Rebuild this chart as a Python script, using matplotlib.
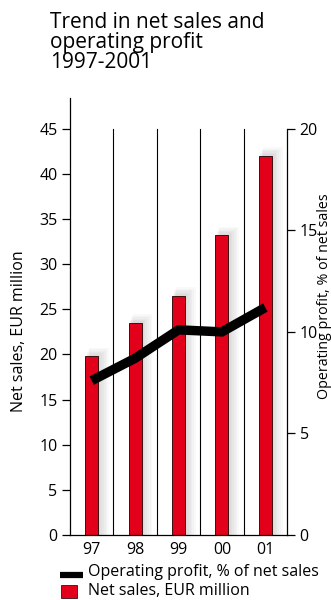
import matplotlib
matplotlib.use('Agg')
import matplotlib.pyplot as plt
import matplotlib.patches as patches
from matplotlib.lines import Line2D

plt.rcParams['font.family'] = ['Open Sans', 'DejaVu Sans']

# ── Data ───────────────────────────────────────────────
years = ['97', '98', '99', '00', '01']
net_sales = [19.8, 23.5, 26.5, 33.2, 42.0]        # EUR million
op_profit = [7.6, 8.7, 10.1, 10.0, 11.2]          # % of net sales
left_ticks = [0, 5, 10, 15, 20, 25, 30, 35, 40, 45]
right_ticks = [0, 5, 10, 15, 20]

RED = '#e2001a'
EDGE = '#3a1010'
FS = 11.5
x = list(range(len(years)))

fig = plt.figure(figsize=(3.31, 6.0), dpi=100)
ax = fig.add_axes([0.2115, 0.1083, 0.6556, 0.7283])
ax.set_xlim(-0.5, len(years) - 0.5)
ax.set_ylim(0, 48.4)

# soft shadow to the right of / above each bar
for xi, v in zip(x, net_sales):
    for k in range(6):
        off = 0.03 + k * 0.025
        ax.add_patch(patches.Rectangle((xi - 0.15 + off * 0.6, 0), 0.3 + off,
                                       v + off * 6, facecolor='#000000', alpha=0.025,
                                       edgecolor='none', zorder=1))

# category separators
for xi in x[:-1]:
    ax.plot([xi + 0.5, xi + 0.5], [0, 45], color='black', lw=0.8, zorder=0.5)

ax.bar(x, net_sales, width=0.3, color=RED, edgecolor=EDGE, lw=0.7, zorder=2)

for s in ['top', 'right']:
    ax.spines[s].set_visible(False)
ax.spines['left'].set_linewidth(0.9)
ax.spines['bottom'].set_linewidth(0.9)
ax.set_yticks(left_ticks)
ax.set_xticks(x)
ax.set_xticklabels(years)
ax.tick_params(axis='x', length=0, labelsize=FS, pad=5)
ax.tick_params(axis='y', length=6, width=0.9, labelsize=FS, pad=3)

ax2 = ax.twinx()
ax2.set_ylim(0, 48.4 * 20 / 45)
for s in ['top', 'left', 'bottom']:
    ax2.spines[s].set_visible(False)
ax2.spines['right'].set_bounds(0, 20)
ax2.spines['right'].set_linewidth(0.9)
ax2.set_yticks(right_ticks)
ax2.tick_params(axis='y', length=6, width=0.9, labelsize=FS, pad=3)
ax2.plot(x, op_profit, color='black', lw=6.8, solid_capstyle='butt',
         solid_joinstyle='miter', zorder=3)

# axis titles
fig.text(19 / 331, 1 - 331 / 600, 'Net sales, EUR million', fontsize=FS,
         rotation=90, ha='center', va='center')
fig.text(325 / 331, 1 - 296 / 600, 'Operating profit, % of net sales', fontsize=10.3,
         rotation=90, ha='center', va='center')

fig.text(0.151, 0.98, 'Trend in net sales and\noperating profit\n1997-2001',
         fontsize=15, va='top', ha='left', linespacing=0.95)

# legend
fig.add_artist(Line2D([60 / 331, 83 / 331], [1 - 575 / 600] * 2, color='black',
                      lw=4.5, solid_capstyle='butt'))
fig.text(88 / 331, 1 - 572 / 600, 'Operating profit, % of net sales', fontsize=FS,
         va='center', ha='left')
fig.add_artist(patches.Rectangle((61 / 331, 1 - 598 / 600), 16 / 331, 13 / 600,
                                 facecolor=RED, edgecolor=EDGE, lw=0.6,
                                 transform=fig.transFigure))
fig.text(88 / 331, 1 - 591 / 600, 'Net sales, EUR million', fontsize=FS,
         va='center', ha='left')

fig.savefig('out.png', dpi=100)
